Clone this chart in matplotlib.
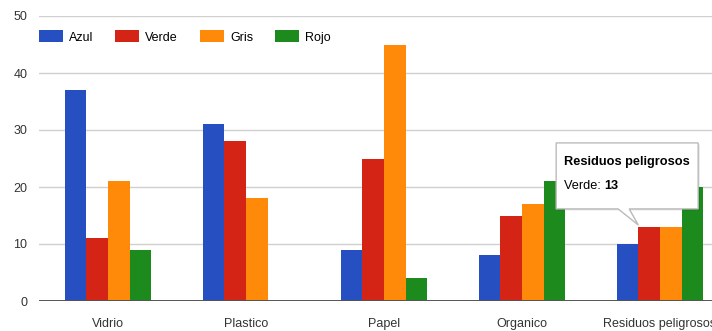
import matplotlib
matplotlib.use("Agg")
import matplotlib.pyplot as plt
from matplotlib.patches import Patch, Polygon
import numpy as np

categories = ["Vidrio", "Plastico", "Papel", "Organico", "Residuos peligrosos"]
series_names = ["Azul", "Verde", "Gris", "Rojo"]
azul = [37, 31, 9, 8, 10]
verde = [11, 28, 25, 15, 13]
gris = [21, 18, 45, 17, 13]
rojo = [9, 0, 4, 21, 20]
colors = ["#2650C2", "#D42416", "#FF8A0A", "#1C8A1C"]
y_ticks = [0, 10, 20, 30, 40, 50]
tooltip_title = "Residuos peligrosos"
tooltip_series = "Verde"
tooltip_index = 4

plt.rcParams['font.family'] = ['Liberation Sans', 'DejaVu Sans']

W, H = 712, 331
fig = plt.figure(figsize=(W / 100, H / 100), dpi=100)
ax = fig.add_axes([39 / W, 30 / H, 690 / W, 285 / H])

values = [azul, verde, gris, rojo]
x = np.arange(len(categories))
bw = 0.157
for i, (vals, col) in enumerate(zip(values, colors)):
    ax.bar(x + (i - 1.5) * bw, vals, width=bw, color=col, linewidth=0, zorder=3)

ax.set_xlim(-0.5, len(categories) - 0.5)
ax.set_ylim(0, 50)
ax.set_yticks(y_ticks)
ax.set_xticks(x)
ax.set_xticklabels(categories)
ax.grid(axis='y', color='#d0d0d0', linewidth=1, zorder=0)
ax.axhline(0, color='#555555', linewidth=1.4, zorder=4)
for s in ax.spines.values():
    s.set_visible(False)
ax.tick_params(axis='both', length=0, labelsize=9, colors='#333333')
ax.tick_params(axis='y', pad=8.5)
ax.tick_params(axis='x', pad=12.5)

handles = [Patch(facecolor=c, edgecolor='none') for c in colors]
ax.legend(handles, series_names, ncol=4, loc='upper left',
          bbox_to_anchor=(0, 0.95), frameon=False, fontsize=9,
          handlelength=1.92, handleheight=1.12, handletextpad=0.48,
          columnspacing=1.76, borderpad=0, borderaxespad=0)

# tooltip anchored to the data point
fig.canvas.draw()
si = series_names.index(tooltip_series)
val = values[si][tooltip_index]
tx, ty = ax.transData.transform((x[tooltip_index] + (si - 1.5) * bw, val))
# pixel coordinates (origin bottom-left)
tipx, tipy = tx - 11, ty + 2
bx0, bx1 = tipx - 82, tipx + 60
by0, by1 = tipy + 16, tipy + 82
pts = [(bx0, by0), (tipx - 20, by0), (tipx, tipy), (tipx - 9, by0),
       (bx1, by0), (bx1, by1), (bx0, by1)]
to_fig = lambda p: (p[0] / W, p[1] / H)
shadow = Polygon([to_fig((px + 1.5, py - 1.5)) for px, py in pts], closed=True,
                 transform=fig.transFigure, facecolor='#000000', alpha=0.12,
                 edgecolor='none', zorder=9)
box = Polygon([to_fig(p) for p in pts], closed=True, transform=fig.transFigure,
              facecolor='white', edgecolor='#bbbbbb', linewidth=1, zorder=10)
fig.add_artist(shadow)
fig.add_artist(box)
fig.text((bx0 + 8) / W, (by1 - 19) / H, tooltip_title, fontsize=9.2,
         fontweight='bold', color='#000000', va='center', ha='left', zorder=11)
t1 = fig.text((bx0 + 8) / W, (by1 - 43) / H, f"{tooltip_series}: ", fontsize=9.2,
              color='#000000', va='center', ha='left', zorder=11)
fig.canvas.draw()
bb = t1.get_window_extent()
fig.text(bb.x1 / W, (by1 - 43) / H, f"{val}", fontsize=9.2, fontweight='bold',
         color='#000000', va='center', ha='left', zorder=11)

fig.savefig("out.png", dpi=100)
